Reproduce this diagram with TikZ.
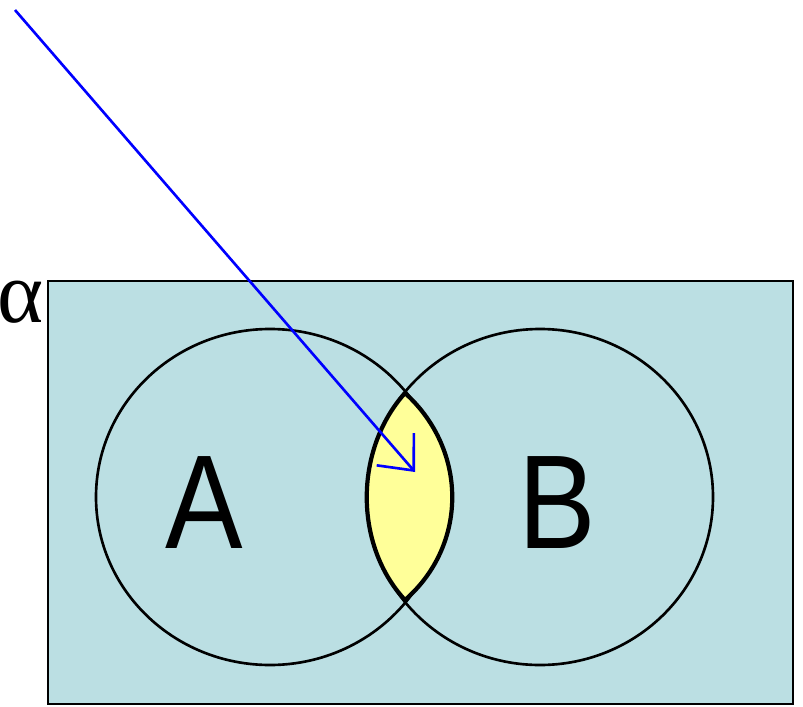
\documentclass[tikz,border=0pt]{standalone}
\usepackage{fontspec}
\usepackage{amsmath}
\newfontfamily\venn{Liberation Sans}
\newfontfamily\greek{Liberation Serif}
\usetikzlibrary{arrows.meta}
\definecolor{universe}{HTML}{BBDFE3}
\definecolor{lens}{HTML}{FFFF99}
\definecolor{ray}{HTML}{0000FF}
\tikzset{
  setring/.style={draw=black, line width=0.75pt},
  setname/.style={font=\venn\fontsize{38}{38}\selectfont},
}

\begin{document}
\begin{tikzpicture}[x=0.01cm, y=-0.01cm]
\useasboundingbox (0,0) rectangle (803,706);
\fill[universe] (48,281) rectangle (793,704);
\draw[line width=0.8pt] (48,281) rectangle (793,704);
\node[anchor=east, inner sep=0pt, font=\greek\fontsize{25}{25}\selectfont] (alpha) at (44,302) {α};
% the two sets
\draw[setring] (270,497) ellipse [x radius=174, y radius=168];
\draw[setring] (540,497) ellipse [x radius=173, y radius=168];
% the common part
\filldraw[fill=lens, draw=black, line width=1.2pt] (405,393) .. controls (468,450) and (468,545) .. (405,600) .. controls (354,545) and (354,450) .. (405,393);
\node[setname] (A) at (204,503) {\scalebox{0.87}[1]{A}};
\node[setname] (B) at (557,503) {\scalebox{0.87}[1]{B}};
\coordinate (start) at (15,10);
\coordinate (tip) at (415,472);
\draw[-{Straight Barb[length=8pt, width=14pt]}, ray, line width=0.75pt] (start) -- (tip);
\end{tikzpicture}
\end{document}
